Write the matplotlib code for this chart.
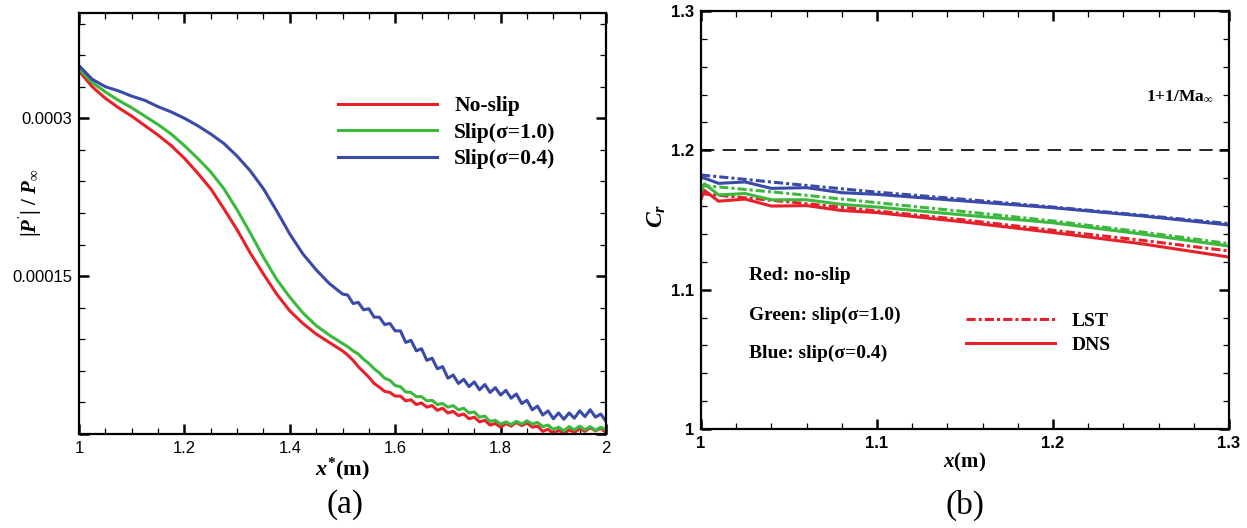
import matplotlib
matplotlib.use("Agg")
import matplotlib.pyplot as plt
from matplotlib.ticker import MultipleLocator, FixedLocator, FixedFormatter
from matplotlib.lines import Line2D

plt.rcParams['mathtext.fontset'] = 'custom'
plt.rcParams['mathtext.rm'] = 'Liberation Serif:bold'
plt.rcParams['mathtext.it'] = 'Liberation Serif:bold:italic'
plt.rcParams['mathtext.bf'] = 'Liberation Serif:bold'

# ---------------- data panel (a) ----------------
xa_smooth = [1.000, 1.025, 1.050, 1.075, 1.100, 1.125, 1.150, 1.175, 1.200, 1.225,
             1.250, 1.275, 1.300, 1.325, 1.350, 1.375, 1.400, 1.425, 1.450, 1.475, 1.500]
xa_tail = [1.51, 1.52, 1.53, 1.54, 1.55, 1.56, 1.57, 1.58, 1.59, 1.60,
           1.61, 1.62, 1.63, 1.64, 1.65, 1.66, 1.67, 1.68, 1.69, 1.70,
           1.71, 1.72, 1.73, 1.74, 1.75, 1.76, 1.77, 1.78, 1.79, 1.80,
           1.81, 1.82, 1.83, 1.84, 1.85, 1.86, 1.87, 1.88, 1.89, 1.90,
           1.91, 1.92, 1.93, 1.94, 1.95, 1.96, 1.97, 1.98, 1.99, 2.00]
xa = xa_smooth + xa_tail

# values in units of 1e-4
noslip_a = [3.45, 3.30, 3.19, 3.10, 3.02, 2.93, 2.84, 2.74, 2.62, 2.48,
            2.33, 2.14, 1.94, 1.72, 1.52, 1.33, 1.17, 1.05, 0.95, 0.87, 0.79,
            0.75, 0.70, 0.64, 0.59, 0.54, 0.48, 0.445, 0.405, 0.395, 0.36,
            0.36, 0.315, 0.325, 0.28, 0.295, 0.255, 0.27, 0.225, 0.245, 0.20,
            0.215, 0.175, 0.19, 0.145, 0.16, 0.115, 0.13, 0.085, 0.10, 0.065,
            0.10, 0.075, 0.11, 0.08, 0.105, 0.065, 0.075, 0.025, 0.045, 0.005,
            0.035, 0.005, 0.04, 0.015, 0.05, 0.025, 0.06, 0.03, 0.055, 0.015]
slip10_a = [3.47, 3.34, 3.25, 3.17, 3.10, 3.02, 2.94, 2.85, 2.74, 2.62,
            2.49, 2.33, 2.13, 1.91, 1.68, 1.47, 1.30, 1.15, 1.03, 0.94, 0.86,
            0.83, 0.79, 0.76, 0.71, 0.67, 0.62, 0.58, 0.53, 0.51, 0.46,
            0.45, 0.40, 0.395, 0.355, 0.355, 0.315, 0.32, 0.28, 0.29, 0.255,
            0.27, 0.23, 0.245, 0.20, 0.21, 0.16, 0.17, 0.12, 0.13, 0.095,
            0.115, 0.09, 0.12, 0.095, 0.125, 0.095, 0.11, 0.07, 0.085, 0.045,
            0.065, 0.03, 0.07, 0.04, 0.075, 0.04, 0.07, 0.035, 0.065, 0.04]
slip04_a = [3.50, 3.37, 3.30, 3.26, 3.21, 3.17, 3.11, 3.06, 3.00, 2.93,
            2.85, 2.76, 2.64, 2.50, 2.33, 2.12, 1.90, 1.71, 1.56, 1.43, 1.33,
            1.32, 1.24, 1.25, 1.18, 1.19, 1.11, 1.11, 1.04, 1.05, 0.98,
            0.98, 0.87, 0.89, 0.79, 0.81, 0.70, 0.72, 0.62, 0.64, 0.53,
            0.56, 0.48, 0.52, 0.45, 0.495, 0.42, 0.47, 0.395, 0.44, 0.37,
            0.415, 0.34, 0.38, 0.29, 0.32, 0.23, 0.265, 0.18, 0.22, 0.145,
            0.20, 0.14, 0.20, 0.15, 0.22, 0.165, 0.23, 0.16, 0.19, 0.12]
labels_a = ['No-slip', 'Slip(σ=1.0)', 'Slip(σ=0.4)']

# ---------------- data panel (b) ----------------
xb_lst = [1.0, 1.05, 1.1, 1.15, 1.2, 1.25, 1.3]
noslip_lst = [1.1689, 1.1630, 1.1565, 1.1500, 1.1426, 1.1355, 1.1278]
slip10_lst = [1.1749, 1.1690, 1.1624, 1.1560, 1.1493, 1.1415, 1.1330]
slip04_lst = [1.1823, 1.1760, 1.1700, 1.1648, 1.1593, 1.1535, 1.1474]

xb_dns = [1.0, 1.002, 1.01, 1.025, 1.04, 1.06, 1.08, 1.1, 1.15, 1.2, 1.25, 1.3]
noslip_dns = [1.1650, 1.1712, 1.1635, 1.1650, 1.1600, 1.1603, 1.1568, 1.1553, 1.1485, 1.1410, 1.1330, 1.1234]
slip10_dns = [1.1700, 1.1760, 1.1680, 1.1690, 1.1645, 1.1645, 1.1612, 1.1593, 1.1535, 1.1480, 1.1400, 1.1313]
slip04_dns = [1.1804, 1.1800, 1.1763, 1.1773, 1.1727, 1.1732, 1.1696, 1.1684, 1.1636, 1.1588, 1.1530, 1.1464]
limit_value = 1.2
notes_b = ['Red: no-slip', 'Green: slip(σ=1.0)', 'Blue: slip(σ=0.4)']

red = '#e8202a'
green = '#3cb83c'
blue = '#3a4aa8'

W, H = 1247, 528
fig = plt.figure(figsize=(W / 100, H / 100), dpi=100)

def px_axes(l, r, t, b):
    return fig.add_axes([l / W, 1 - b / H, (r - l) / W, (b - t) / H])

ax1 = px_axes(79, 606, 13, 434)
ax2 = px_axes(701, 1229, 11, 429)

serif = 'Liberation Serif'
sans = 'Liberation Sans'

for ax in (ax1, ax2):
    for s in ax.spines.values():
        s.set_linewidth(1.6)
    ax.tick_params(which='both', direction='in', top=True, right=True, pad=5)
    ax.tick_params(which='major', length=7, width=1.8)
    ax.tick_params(which='minor', length=4, width=0.9)

# ---- panel (a)
sc = 1e-4
ax1.plot(xa, [v * sc for v in noslip_a], color=red, lw=2.2, label=labels_a[0])
ax1.plot(xa, [v * sc for v in slip10_a], color=green, lw=2.2, label=labels_a[1])
ax1.plot(xa, [v * sc for v in slip04_a], color=blue, lw=2.2, label=labels_a[2])
ax1.set_xlim(1, 2)
ax1.set_ylim(0, 0.0004)
ax1.xaxis.set_minor_locator(MultipleLocator(0.05))
ax1.yaxis.set_major_locator(FixedLocator([0, 0.00015, 0.0003]))
ax1.yaxis.set_major_formatter(FixedFormatter(['', '0.00015', '0.0003']))
ax1.yaxis.set_minor_locator(MultipleLocator(0.00003))
ax1.set_xticks([1, 1.2, 1.4, 1.6, 1.8, 2])
ax1.set_xticklabels(['1', '1.2', '1.4', '1.6', '1.8', '2'])
for lab in ax1.get_xticklabels() + ax1.get_yticklabels():
    lab.set_fontfamily(sans)
    lab.set_fontsize(12)
ax1.set_xlabel(r'$x^{*}$(m)', fontfamily=serif, fontweight='bold', fontsize=16, labelpad=0)
ax1.set_ylabel(r"$|P^{'}|\ /\ P_{\infty}$", fontfamily=serif, fontweight='bold', fontsize=15)
ax1.yaxis.set_label_coords((45 - 79) / 527, 0.55)
ax1.legend(loc='upper left', bbox_to_anchor=(338 / W, 1 - 96 / H), bbox_transform=fig.transFigure,
           frameon=False, handlelength=4.6, handletextpad=0.8, labelspacing=0.3,
           borderpad=0, borderaxespad=0,
           prop={'family': serif, 'weight': 'bold', 'size': 15.5})

# ---- panel (b)
lst_style = (0, (3, 1, 1, 1))
ax2.plot(xb_lst, noslip_lst, color=red, lw=2.2, ls=lst_style)
ax2.plot(xb_lst, slip10_lst, color=green, lw=2.2, ls=lst_style)
ax2.plot(xb_lst, slip04_lst, color=blue, lw=2.2, ls=lst_style)
ax2.plot(xb_dns, noslip_dns, color=red, lw=2.2)
ax2.plot(xb_dns, slip10_dns, color=green, lw=2.2)
ax2.plot(xb_dns, slip04_dns, color=blue, lw=2.2)
ax2.axhline(limit_value, color='black', lw=1.2, ls=(0, (8, 5)))
ax2.set_xlim(1, 1.3)
ax2.set_ylim(1, 1.3)
ax2.set_xticks([1, 1.1, 1.2, 1.3])
ax2.set_xticklabels(['1', '1.1', '1.2', '1.3'])
ax2.set_yticks([1, 1.1, 1.2, 1.3])
ax2.set_yticklabels(['1', '1.1', '1.2', '1.3'])
ax2.xaxis.set_minor_locator(MultipleLocator(0.02))
ax2.yaxis.set_minor_locator(MultipleLocator(0.02))
for lab in ax2.get_xticklabels() + ax2.get_yticklabels():
    lab.set_fontfamily(sans)
    lab.set_fontweight('bold')
    lab.set_fontsize(12)
ax2.set_xlabel(r'$x$(m)', fontfamily=serif, fontweight='bold', fontsize=15, labelpad=0)
ax2.set_ylabel(r'$C_r$', fontfamily=serif, fontweight='bold', fontsize=17)
ax2.yaxis.set_label_coords((668 - 701) / 528, 0.51)

fig.text(1180 / W, 1 - 97 / H, r'1+1/Ma$_{\infty}$', ha='center', va='center',
         fontfamily=serif, fontweight='bold', fontsize=12.5)
for txt, py in zip(notes_b, [276, 315, 353]):
    fig.text(749 / W, 1 - py / H, txt, ha='left', va='center',
             fontfamily=serif, fontweight='bold', fontsize=14)

handles = [Line2D([], [], color=red, lw=2.2, ls=lst_style), Line2D([], [], color=red, lw=2.2)]
ax2.legend(handles, ['LST', 'DNS'], loc='upper left', bbox_to_anchor=(966 / W, 1 - 312 / H),
           bbox_transform=fig.transFigure, frameon=False, handlelength=4.6, handletextpad=0.85,
           labelspacing=0.35, borderpad=0, borderaxespad=0,
           prop={'family': serif, 'weight': 'bold', 'size': 14})

fig.text(345 / W, 1 - 505 / H, '(a)', ha='center', va='center', fontfamily=serif, fontsize=24)
fig.text(965 / W, 1 - 505 / H, '(b)', ha='center', va='center', fontfamily=serif, fontsize=24)

fig.savefig('out.png', dpi=100)
